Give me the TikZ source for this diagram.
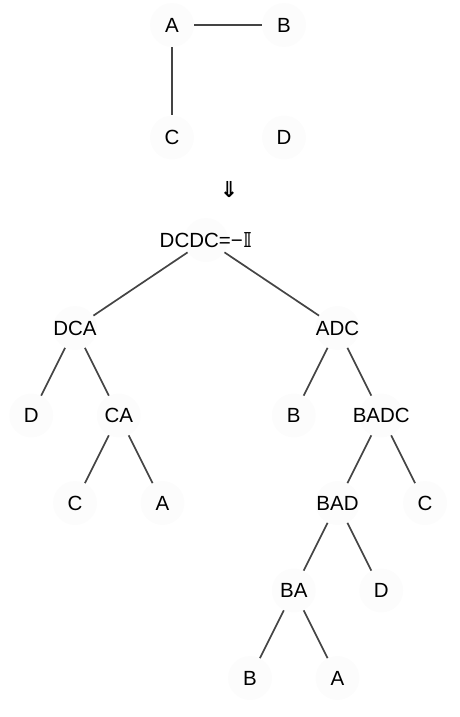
\documentclass[tikz,border=0pt]{standalone}
\usepackage{fontspec}
\setmainfont{Liberation Sans}
\newfontfamily\symfont{DejaVu Sans}
\usepackage{xcolor}
\usepackage{tikz}
\usetikzlibrary{positioning}
\definecolor{vertfill}{HTML}{FCFCFC}
\definecolor{linkgray}{HTML}{444444}
\tikzset{
  vert/.style={circle, fill=vertfill, minimum size=44pt, inner sep=0pt,
               label={[font=\fontsize{20.5}{24}\selectfont]center:#1}},
  link/.style={draw=linkgray, line width=1.7pt}
}

\begin{document}
\begin{tikzpicture}[x=1pt, y=-1pt, node distance=87.5pt and 43.75pt, on grid]
  \useasboundingbox (0,0) rectangle (459,717);
  % the graph
  \node[vert=A] (a) at (172,25) {};
  \node[vert=B, right=112pt of a] (b) {};
  \node[vert=C, below=112.5pt of a] (c) {};
  \node[vert=D, right=112pt of c] (d) {};
  \draw[link] (a) -- (b);
  \draw[link] (a) -- (c);

  \node[font=\symfont\bfseries\fontsize{22}{24}\selectfont] (implies) at (229,190) {⇓};

  % the tree
  \node[vert={DCDC=−{\symfont\bfseries 𝕀}}] (root) at (206,240) {};
  \node[vert=DCA, below left=88pt and 131pt of root] (dca) {};
  \node[vert=ADC, below right=88pt and 131.5pt of root] (adc) {};
  \node[vert=D, below left=of dca] (dca-d) {};
  \node[vert=CA, below right=of dca] (ca) {};
  \node[vert=C, below left=of ca] (ca-c) {};
  \node[vert=A, below right=of ca] (ca-a) {};
  \node[vert=B, below left=of adc] (adc-b) {};
  \node[vert=BADC, below right=of adc] (badc) {};
  \node[vert=BAD, below left=of badc] (bad) {};
  \node[vert=C, below right=of badc] (badc-c) {};
  \node[vert=BA, below left=of bad] (ba) {};
  \node[vert=D, below right=of bad] (bad-d) {};
  \node[vert=B, below left=of ba] (ba-b) {};
  \node[vert=A, below right=of ba] (ba-a) {};

  \draw[link] (root) -- (dca);
  \draw[link] (root) -- (adc);
  \draw[link] (dca) -- (dca-d);
  \draw[link] (dca) -- (ca);
  \draw[link] (ca) -- (ca-c);
  \draw[link] (ca) -- (ca-a);
  \draw[link] (adc) -- (adc-b);
  \draw[link] (adc) -- (badc);
  \draw[link] (badc) -- (bad);
  \draw[link] (badc) -- (badc-c);
  \draw[link] (bad) -- (ba);
  \draw[link] (bad) -- (bad-d);
  \draw[link] (ba) -- (ba-b);
  \draw[link] (ba) -- (ba-a);
\end{tikzpicture}
\end{document}
